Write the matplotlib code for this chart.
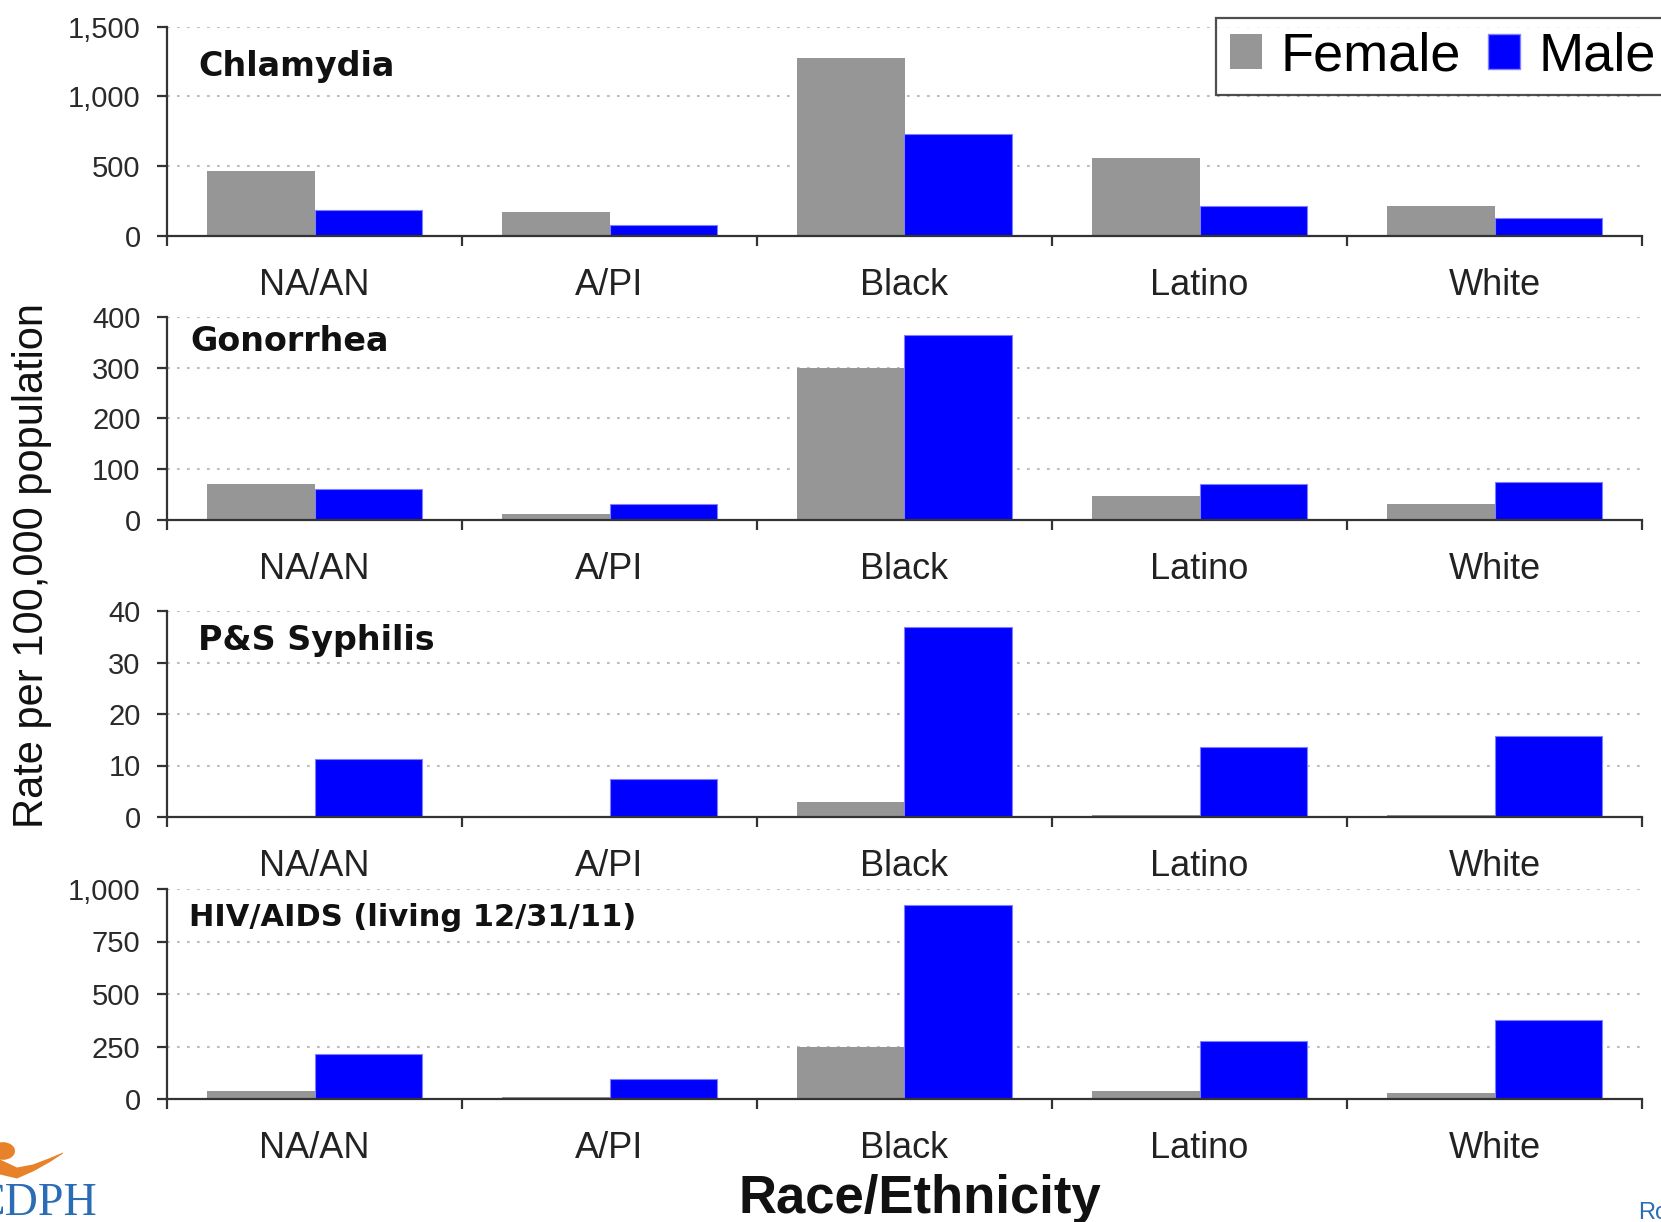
import matplotlib
matplotlib.use("Agg")
import matplotlib.pyplot as plt
from matplotlib.ticker import FuncFormatter, FixedLocator
from matplotlib.patches import Patch, Circle, Polygon
import numpy as np

plt.rcParams['font.family'] = ['Liberation Sans', 'DejaVu Sans']

categories = ['NA/AN', 'A/PI', 'Black', 'Latino', 'White']

chlamydia_female = [462, 174, 1273, 561, 212]
chlamydia_male = [189, 76, 727, 212, 129]
gonorrhea_female = [71, 12, 300, 48, 31]
gonorrhea_male = [62, 31, 365, 71, 75]
syphilis_female = [0.0, 0.0, 2.9, 0.3, 0.4]
syphilis_male = [11.3, 7.4, 36.9, 13.6, 15.7]
hiv_female = [40, 10, 247, 40, 30]
hiv_male = [212, 96, 924, 278, 374]

panel_titles = ['Chlamydia', 'Gonorrhea', 'P&S Syphilis', 'HIV/AIDS (living 12/31/11)']
panel_yticks = [[0, 500, 1000, 1500], [0, 100, 200, 300, 400],
                [0, 10, 20, 30, 40], [0, 250, 500, 750, 1000]]
series_labels = ['Female', 'Male']

female_color = '#969696'
male_color = '#0000FF'

W, H = 1661, 1222
fig = plt.figure(figsize=(W / 100, H / 100), dpi=100)

# axes boxes in pixels: (left, top, right, bottom)
boxes = [(167, 26.5, 1642, 236), (167, 317, 1642, 520),
         (167, 611, 1642, 817), (167, 889, 1642, 1099)]
title_pos = [(0.021, 0.811), (0.016, 0.877), (0.021, 0.859), (0.015, 0.862)]
title_sizes = [24, 24, 24, 22]
data = [(chlamydia_female, chlamydia_male), (gonorrhea_female, gonorrhea_male),
        (syphilis_female, syphilis_male), (hiv_female, hiv_male)]

x = np.arange(len(categories))
bw = 0.366
for i, (l, t, r, b) in enumerate(boxes):
    ax = fig.add_axes([l / W, 1 - b / H, (r - l) / W, (b - t) / H])
    fem, mal = data[i]
    ax.bar(x - bw / 2, fem, bw, color=female_color, edgecolor='none', zorder=2)
    ax.bar(x + bw / 2, mal, bw, color=male_color, edgecolor='#8080ff', linewidth=0.8, zorder=2)
    ax.set_xlim(-0.5, len(categories) - 0.5)
    yt = panel_yticks[i]
    ax.set_ylim(0, yt[-1])
    ax.set_yticks(yt)
    ax.yaxis.set_major_formatter(FuncFormatter(lambda v, p: f"{int(v):,}"))
    ax.set_xticks(x)
    ax.set_xticklabels(categories, fontsize=26, color='#222222')
    ax.xaxis.set_minor_locator(FixedLocator(np.arange(-0.5, len(categories), 1.0)))
    ax.tick_params(axis='x', which='major', length=0, pad=23)
    ax.tick_params(axis='x', which='minor', length=7, width=1.6, direction='out', color='#333333')
    ax.tick_params(axis='y', length=7, width=1.6, direction='out', color='#333333',
                   labelsize=21, labelcolor='#2a2a2a', pad=12)
    for s in ['top', 'right']:
        ax.spines[s].set_visible(False)
    for s in ['left', 'bottom']:
        ax.spines[s].set_linewidth(1.6)
        ax.spines[s].set_color('#333333')
    ax.yaxis.grid(True, linestyle=(0, (1.3, 3.5)), color='#bdbdbd', linewidth=1.5, zorder=0)
    ax.set_axisbelow(True)
    ax.text(title_pos[i][0], title_pos[i][1], panel_titles[i], transform=ax.transAxes,
            fontsize=title_sizes[i], fontweight='bold', family='DejaVu Sans',
            ha='left', va='center', color='#111111')

# legend
handles = [Patch(facecolor=female_color, edgecolor='none'),
           Patch(facecolor=male_color, edgecolor='#8080ff')]
leg = fig.legend(handles, series_labels, loc='upper left', bbox_to_anchor=(1216 / W, 1 - 18 / H),
                 bbox_transform=fig.transFigure, ncol=2, fontsize=39, frameon=True,
                 fancybox=False, edgecolor='#222222', handlelength=0.6, handleheight=0.6,
                 handletextpad=0.34, columnspacing=0.5, borderpad=0.25, borderaxespad=0)
leg.get_frame().set_linewidth(1.6)

# axis labels
fig.text(32 / W, 1 - 565 / H, 'Rate per 100,000 population', rotation=90,
         ha='center', va='center', fontsize=30, color='#111111')
fig.text(920 / W, 1 - 1213 / H, 'Race/Ethnicity', ha='center', va='baseline',
         fontsize=38, fontweight='bold', color='#111111')

# logo fragments (cut off at figure edge, as in the reference)
fig.text(97 / W, 1 - 1215 / H, 'CDPH', ha='right', va='baseline', fontsize=33,
         family='Liberation Serif', color='#2a6db5')
fig.patches.append(Circle((3 / W, 1 - 1151 / H), 12 / W, transform=fig.transFigure,
                          facecolor='#e8822a', edgecolor='none'))
cx = np.array([0, 17, 33, 50, 63])
cy = np.array([1167, 1173, 1168, 1160, 1153])
th = np.array([15, 11, 7, 4, 1])
top = np.column_stack([cx / W, 1 - (cy - th / 2) / H])
bot = np.column_stack([cx / W, 1 - (cy + th / 2) / H])
fig.patches.append(Polygon(np.vstack([top, bot[::-1]]), closed=True,
                           transform=fig.transFigure, facecolor='#e8822a', edgecolor='none'))
fig.text(1638 / W, 1 - 1219 / H, 'Ro', ha='left', va='baseline', fontsize=17, color='#2a6db5')

fig.savefig('out.png', dpi=100)
